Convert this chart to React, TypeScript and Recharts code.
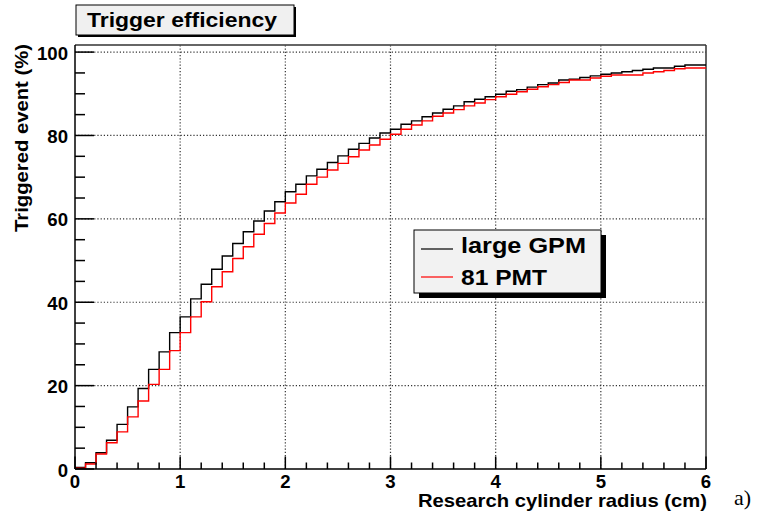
import React from 'react';
import { LineChart, Line, XAxis, YAxis, ReferenceLine } from 'recharts';

// bins of 0.1 cm from 0 to 6 cm, values in %
const binWidth = 0.1;
const largeGPM = [
  0.4, 1.5, 3.9, 6.9, 10.7, 14.9, 19.3, 23.9, 28.1, 32.7,
  36.5, 40.8, 44.3, 47.9, 51.1, 54.1, 56.9, 59.5, 61.9, 64.1,
  66.5, 68.3, 70.3, 71.9, 73.5, 75.1, 76.7, 78.1, 79.4, 80.6,
  81.5, 82.7, 83.5, 84.5, 85.4, 86.3, 87.1, 88.1, 88.7, 89.3,
  89.9, 90.6, 91.0, 91.6, 92.2, 92.6, 93.3, 93.5, 93.9, 94.3,
  94.7, 95.0, 95.3, 95.6, 95.9, 96.2, 96.2, 96.6, 96.9, 96.9,
];
const pmt81 = [
  0.2, 1.2, 3.6, 6.3, 8.9, 12.5, 16.3, 20.3, 23.9, 28.4,
  32.7, 36.5, 40.1, 43.7, 47.3, 50.5, 53.3, 56.3, 58.9, 61.4,
  63.8, 65.9, 68.3, 70.0, 71.7, 73.3, 74.9, 76.5, 77.7, 79.1,
  80.3, 81.5, 82.5, 83.5, 84.6, 85.4, 86.2, 87.1, 87.8, 88.6,
  89.3, 89.9, 90.5, 91.1, 91.7, 92.2, 92.7, 93.3, 93.3, 93.8,
  94.2, 94.5, 94.5, 94.5, 95.0, 95.3, 95.6, 96.0, 96.2, 96.2,
];

const xTicks = [0, 0.2, 0.4, 0.6, 0.8, 1, 1.2, 1.4, 1.6, 1.8, 2, 2.2, 2.4, 2.6, 2.8, 3, 3.2, 3.4, 3.6, 3.8, 4, 4.2, 4.4, 4.6, 4.8, 5, 5.2, 5.4, 5.6, 5.8, 6];
const xMajor = [0, 1, 2, 3, 4, 5, 6];
const yTicks = [0, 5, 10, 15, 20, 25, 30, 35, 40, 45, 50, 55, 60, 65, 70, 75, 80, 85, 90, 95, 100];
const yMajor = [0, 20, 40, 60, 80, 100];
const xGrid = [1, 2, 3, 4, 5];
const yGrid = [20, 40, 60, 80, 100];
const seriesNames = ['large GPM', '81 PMT'];
const yMax = 101.7;

const rows = largeGPM.map((v, i) => ({ x: +(i * binWidth).toFixed(1), gpm: v, pmt: pmt81[i] }));
rows.push({ x: 6, gpm: largeGPM[largeGPM.length - 1], pmt: pmt81[pmt81.length - 1] });

const PLOT_LEFT = 75;
const AXIS_Y = 469;
const FONT = '"Liberation Sans", Arial, Helvetica, sans-serif';

const isMajor = (v: number, list: number[]) => list.some((m) => Math.abs(m - v) < 1e-6);

const YTick = (props: any) => {
  const { y, payload } = props;
  const major = isMajor(payload.value, yMajor);
  return (
    <g>
      <line x1={PLOT_LEFT} x2={PLOT_LEFT + (major ? 19 : 10)} y1={y} y2={y} stroke="#000" strokeWidth={1.5} />
      {major && (
        <text x={68} y={y + 7.5} textAnchor="end" fontFamily={FONT} fontWeight="bold" fontSize={18.6} fill="#000">
          {payload.value}
        </text>
      )}
    </g>
  );
};

const XTick = (props: any) => {
  const { x, payload } = props;
  const major = isMajor(payload.value, xMajor);
  return (
    <g>
      <line x1={x} x2={x} y1={AXIS_Y} y2={AXIS_Y - (major ? 12.5 : 6.5)} stroke="#000" strokeWidth={1.5} />
      {major && (
        <text x={x} y={488} textAnchor="middle" fontFamily={FONT} fontWeight="bold" fontSize={18.6} fill="#000">
          {payload.value}
        </text>
      )}
    </g>
  );
};

const XTitle = () => (
  <text x={707} y={507} textAnchor="end" fontFamily={FONT} fontWeight="bold" fontSize={18.6} fill="#000"
    textLength={289} lengthAdjust="spacingAndGlyphs">
    Research cylinder radius (cm)
  </text>
);

const YTitle = () => (
  <text x={28} y={232} transform="rotate(-90, 28, 232)" textAnchor="start" fontFamily={FONT} fontWeight="bold"
    fontSize={18.6} fill="#000" textLength={188} lengthAdjust="spacingAndGlyphs">
    Triggered event (%)
  </text>
);

export default function App() {
  return (
    <div style={{ position: 'absolute', left: 0, top: 0, width: 760, height: 515, background: '#fff' }}>
      <LineChart width={760} height={515} data={rows} margin={{ top: 45, right: 54, bottom: 0, left: 0 }}>
        <XAxis
          type="number"
          dataKey="x"
          domain={[0, 6]}
          ticks={xTicks}
          interval={0}
          height={46}
          axisLine={{ stroke: '#000', strokeWidth: 1.5 }}
          tickLine={false}
          tick={(p: any) => <XTick {...p} />}
          label={{ content: XTitle }}
          allowDataOverflow
        />
        <YAxis
          type="number"
          domain={[0, yMax]}
          ticks={yTicks}
          interval={0}
          width={75}
          axisLine={{ stroke: '#000', strokeWidth: 1.5 }}
          tickLine={false}
          tick={(p: any) => <YTick {...p} />}
          label={{ content: YTitle }}
          allowDataOverflow
        />
        {xGrid.map((v) => (
          <ReferenceLine key={'gx' + v} x={v} stroke="#333" strokeWidth={1.2} strokeDasharray="1.2 2" />
        ))}
        {yGrid.map((v) => (
          <ReferenceLine key={'gy' + v} y={v} stroke="#333" strokeWidth={1.2} strokeDasharray="1.2 2" />
        ))}
        <ReferenceLine y={yMax} stroke="#333" strokeWidth={1.5} />
        <ReferenceLine x={6} stroke="#333" strokeWidth={1.5} />
        <Line type="stepAfter" dataKey="gpm" name={seriesNames[0]} stroke="#000" strokeWidth={1.4} dot={false} isAnimationActive={false} />
        <Line type="stepAfter" dataKey="pmt" name={seriesNames[1]} stroke="#ff0000" strokeWidth={1.4} dot={false} isAnimationActive={false} />
      </LineChart>
      <svg width={760} height={515} style={{ position: 'absolute', left: 0, top: 0, pointerEvents: 'none' }}>
        {/* title box */}
        <rect x={78} y={7} width={218} height={30} fill="#000" />
        <rect x={76} y={5} width={218} height={30} fill="#f0f0f0" stroke="#000" strokeWidth={1} />
        <text x={87} y={27} fontFamily={FONT} fontWeight="bold" fontSize={21} fill="#000" textLength={190} lengthAdjust="spacingAndGlyphs">
          Trigger efficiency
        </text>
        {/* legend */}
        <rect x={419} y={235} width={187} height={63} fill="#000" />
        <rect x={414} y={230} width={187} height={63} fill="#f2f2f2" stroke="#000" strokeWidth={1} />
        <line x1={421} x2={453} y1={249} y2={249} stroke="#000" strokeWidth={1.2} />
        <text x={461} y={253} fontFamily={FONT} fontWeight="bold" fontSize={21.5} fill="#000" textLength={125} lengthAdjust="spacingAndGlyphs">
          {seriesNames[0]}
        </text>
        <line x1={421} x2={453} y1={277} y2={277} stroke="#ff0000" strokeWidth={1.2} />
        <text x={461} y={285} fontFamily={FONT} fontWeight="bold" fontSize={21.5} fill="#000" textLength={86} lengthAdjust="spacingAndGlyphs">
          {seriesNames[1]}
        </text>
        <text x={734} y={505} fontFamily='"Liberation Serif", "Times New Roman", serif' fontSize={22} fill="#000">
          a)
        </text>
      </svg>
    </div>
  );
}
